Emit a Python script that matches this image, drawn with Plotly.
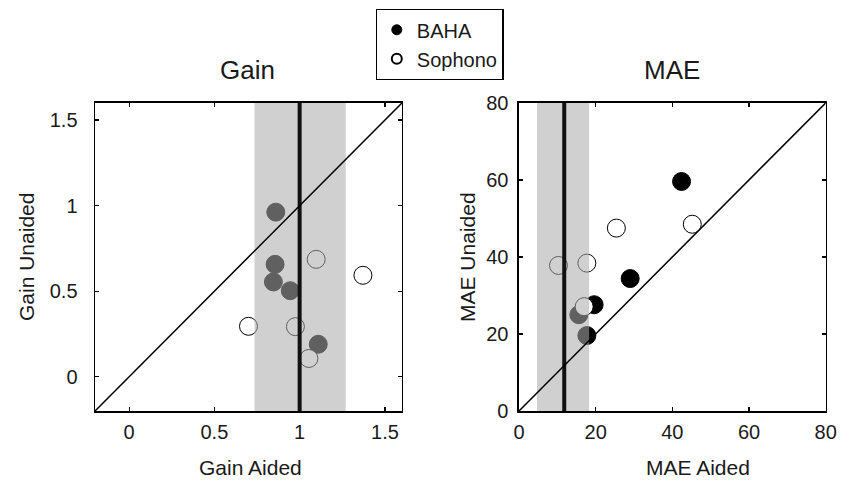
import plotly.graph_objects as go

# ---- data ----
gain_baha_aided = [0.86, 0.856, 0.846, 0.945, 1.109]
gain_baha_unaided = [0.962, 0.657, 0.554, 0.503, 0.19]
gain_soph_aided = [0.70, 0.975, 1.097, 1.371, 1.054]
gain_soph_unaided = [0.295, 0.293, 0.686, 0.593, 0.107]

mae_baha_aided = [42.4, 29.0, 19.6, 15.6, 17.7]
mae_baha_unaided = [59.6, 34.4, 27.6, 25.0, 19.6]
mae_soph_aided = [25.4, 45.2, 10.3, 17.7, 17.0]
mae_soph_unaided = [47.5, 48.5, 37.8, 38.4, 27.1]

gain_band = [0.735, 1.27]
gain_ref = 1.0
mae_band = [4.7, 18.3]
mae_ref = 11.8

gain_range = [-0.2, 1.6]
mae_range = [0, 80]
gain_ticks = [0, 0.5, 1, 1.5]
gain_ticktext = ["0", "0.5", "1", "1.5"]
mae_ticks = [0, 20, 40, 60, 80]

FONT = "Liberation Sans, Arial, sans-serif"
W, H = 856, 481

fig = go.Figure()

def add_points(x, y, xa, ya, fill):
    fig.add_trace(go.Scatter(
        x=x, y=y, mode="markers", xaxis=xa, yaxis=ya, showlegend=False,
        marker=dict(size=18, color=fill, line=dict(color="black", width=1)),
        hoverinfo="skip"))

add_points(gain_baha_aided, gain_baha_unaided, "x", "y", "black")
add_points(gain_soph_aided, gain_soph_unaided, "x", "y", "white")
add_points(mae_baha_aided, mae_baha_unaided, "x2", "y2", "black")
add_points(mae_soph_aided, mae_soph_unaided, "x2", "y2", "white")

# legend entries
fig.add_trace(go.Scatter(x=[None], y=[None], mode="markers", name="BAHA",
                         marker=dict(size=10, color="black", line=dict(color="black", width=1))))
fig.add_trace(go.Scatter(x=[None], y=[None], mode="markers", name="Sophono",
                         marker=dict(size=10, color="white", line=dict(color="black", width=2))))

band_fill = "rgba(171,171,171,0.56)"
shapes = []
for xr, yr, band, ref, xa, ya in [
    ("x", "y", gain_band, gain_ref, gain_range, gain_range),
    ("x2", "y2", mae_band, mae_ref, mae_range, mae_range),
]:
    shapes.append(dict(type="rect", xref=xr, yref=yr, x0=band[0], x1=band[1],
                       y0=ya[0], y1=ya[1], fillcolor=band_fill, line=dict(width=0), layer="above"))
    shapes.append(dict(type="line", xref=xr, yref=yr, x0=ref, x1=ref,
                       y0=ya[0], y1=ya[1], line=dict(color="#111111", width=4), layer="above"))
    shapes.append(dict(type="line", xref=xr, yref=yr, x0=xa[0], x1=xa[1],
                       y0=ya[0], y1=ya[1], line=dict(color="black", width=1.5), layer="above"))

axis_common = dict(showline=True, linecolor="black", linewidth=1.5, mirror="ticks",
                   ticks="inside", ticklen=4, tickwidth=1.2, tickcolor="black",
                   showgrid=False, zeroline=False, fixedrange=True, automargin=False,
                   tickfont=dict(size=20, color="#1a1a1a", family=FONT))

def px(x, y):
    return x / W, 1 - y / H

def ann(text, x, y, size, angle=0):
    xp, yp = px(x, y)
    return dict(text=text, x=xp, y=yp, xref="paper", yref="paper", showarrow=False,
                font=dict(size=size, color="#1a1a1a", family=FONT), textangle=angle,
                xanchor="center", yanchor="middle")

ydom = [0.1455, 0.786]
fig.update_layout(
    width=W, height=H, autosize=False,
    margin=dict(l=0, r=0, t=0, b=0),
    plot_bgcolor="white", paper_bgcolor="white",
    font=dict(family=FONT, color="#1a1a1a"),
    shapes=shapes,
    xaxis=dict(domain=[0.111, 0.4696], range=gain_range, tickvals=gain_ticks, ticktext=gain_ticktext,
               ticklabelstandoff=2, **axis_common),
    yaxis=dict(domain=ydom, range=gain_range, tickvals=gain_ticks, ticktext=gain_ticktext,
               ticklabelstandoff=12, **axis_common),
    xaxis2=dict(domain=[0.6063, 0.9646], range=mae_range, tickvals=mae_ticks, anchor="y2",
                ticklabelstandoff=2, **axis_common),
    yaxis2=dict(domain=ydom, range=mae_range, tickvals=mae_ticks, anchor="x2",
                ticklabelstandoff=5, **axis_common),
    legend=dict(x=439.5 / W, y=1 - 9 / H, xanchor="center", yanchor="top", bordercolor="black",
                borderwidth=1.3, bgcolor="white", font=dict(size=20, family=FONT, color="#1a1a1a"),
                itemwidth=30, tracegroupgap=0),
    annotations=[
        ann("Gain", 247, 70, 26),
        ann("MAE", 672, 70, 26),
        ann("Gain Aided", 250, 467, 21),
        ann("MAE Aided", 698, 467, 21),
        ann("Gain Unaided", 26, 257, 21, -90),
        ann("MAE Unaided", 467, 257, 21, -90),
    ],
)

fig.write_html("out.html", post_script="document.body.style.margin='0';",
               config={"displayModeBar": False, "staticPlot": True})
